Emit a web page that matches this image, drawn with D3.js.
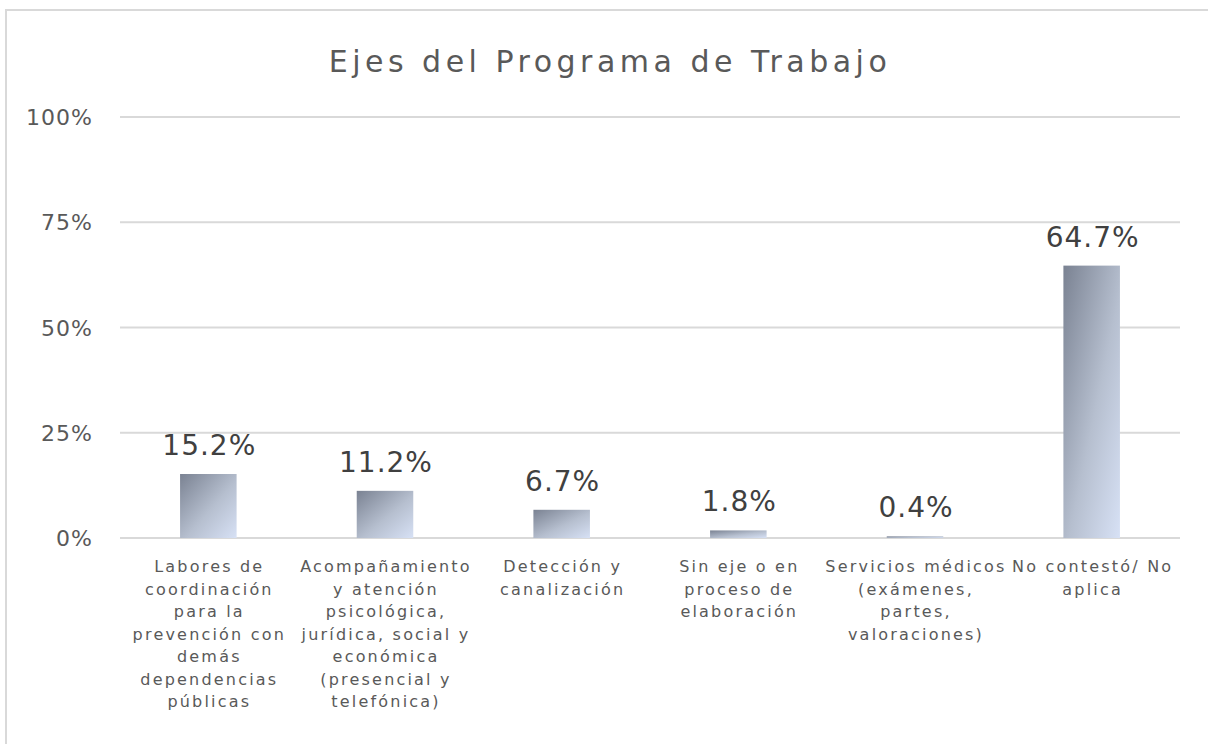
<!DOCTYPE html>
<html lang="es">
<head>
    <meta charset="UTF-8">
    <script src="https://cdnjs.cloudflare.com/ajax/libs/d3/7.8.5/d3.min.js"></script>
    <style>
        body { margin: 0; background: #fff; }
        text { font-family: "DejaVu Sans", "Noto Sans", sans-serif; }
    </style>
</head>
<body>
<svg id="chart" width="1208" height="744"></svg>
<script>
    const categories = [
        ['Labores de', 'coordinación', 'para la', 'prevención con', 'demás', 'dependencias', 'públicas'],
        ['Acompañamiento', 'y atención', 'psicológica,', 'jurídica, social y', 'económica', '(presencial y', 'telefónica)'],
        ['Detección y', 'canalización'],
        ['Sin eje o en', 'proceso de', 'elaboración'],
        ['Servicios médicos', '(exámenes,', 'partes,', 'valoraciones)'],
        ['No contestó/ No', 'aplica']
    ];
    const values = [15.2, 11.2, 6.7, 1.8, 0.4, 64.7];
    const yTicks = [0, 25, 50, 75, 100];

    const svg = d3.select('#chart');

    // chart frame (runs past the window on right and bottom)
    svg.append('rect')
        .attr('x', 6).attr('y', 10)
        .attr('width', 1230).attr('height', 760)
        .attr('fill', '#fff')
        .attr('stroke', '#d9d9d9').attr('stroke-width', 2);

    const defs = svg.append('defs');
    const grad = defs.append('linearGradient')
        .attr('id', 'barGrad')
        .attr('x1', '0%').attr('y1', '0%')
        .attr('x2', '100%').attr('y2', '100%');
    grad.append('stop').attr('offset', '0%').attr('stop-color', '#7a8292');
    grad.append('stop').attr('offset', '55%').attr('stop-color', '#b6bfcf');
    grad.append('stop').attr('offset', '100%').attr('stop-color', '#d7e1f5');

    const idx = d3.range(values.length);
    const x = d3.scaleBand().domain(idx).range([120, 1180]).paddingInner(0.68).paddingOuter(0.34);
    const y = d3.scaleLinear().domain([0, 100]).range([538, 117]);

    // gridlines
    svg.append('g').selectAll('line')
        .data(yTicks).enter()
        .append('line')
        .attr('x1', 120).attr('x2', 1180)
        .attr('y1', d => y(d)).attr('y2', d => y(d))
        .attr('stroke', '#d9d9d9').attr('stroke-width', 2);

    // y tick labels
    svg.append('g').selectAll('text')
        .data(yTicks).enter()
        .append('text')
        .attr('x', 93).attr('y', d => y(d) + 8)
        .attr('text-anchor', 'end')
        .style('font-size', '22px')
        .style('letter-spacing', '1px')
        .style('fill', '#595959')
        .text(d => d + '%');

    // bars
    svg.append('g').selectAll('rect')
        .data(values).enter()
        .append('rect')
        .attr('x', (d, i) => x(i))
        .attr('width', x.bandwidth())
        .attr('y', d => y(d))
        .attr('height', d => y(0) - y(d))
        .attr('fill', 'url(#barGrad)');

    // value labels
    svg.append('g').selectAll('text')
        .data(values).enter()
        .append('text')
        .attr('x', (d, i) => x(i) + x.bandwidth() / 2 + 1)
        .attr('y', d => y(d) - 19)
        .attr('text-anchor', 'middle')
        .style('font-size', '28px')
        .style('letter-spacing', '1px')
        .style('fill', '#404040')
        .text(d => d.toFixed(1) + '%');

    // category labels
    const cat = svg.append('g').selectAll('text')
        .data(categories).enter()
        .append('text')
        .attr('text-anchor', 'middle')
        .style('font-size', '16px')
        .style('letter-spacing', '2.2px')
        .style('fill', '#595959');
    cat.each(function(lines, i) {
        const t = d3.select(this);
        lines.forEach((ln, j) => {
            t.append('tspan')
                .attr('x', x(i) + x.bandwidth() / 2 + 1)
                .attr('y', 572 + j * 22.5)
                .text(ln);
        });
    });

    // title
    svg.append('text')
        .attr('x', 610).attr('y', 72)
        .attr('text-anchor', 'middle')
        .style('font-size', '30px')
        .style('letter-spacing', '4.5px')
        .style('fill', '#595959')
        .text('Ejes del Programa de Trabajo');
</script>
</body>
</html>
